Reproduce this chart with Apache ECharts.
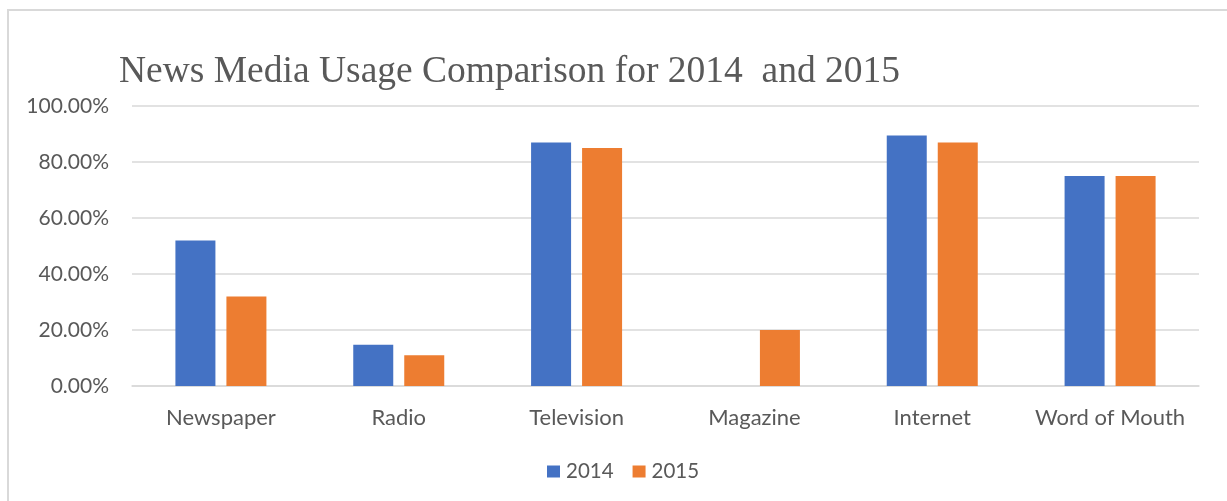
<!DOCTYPE html>
<html>
<head>
<meta charset="utf-8">
<script src="https://cdn.jsdelivr.net/npm/echarts@6/dist/echarts.min.js"></script>
<style>
  html, body { margin: 0; padding: 0; background: #ffffff; }
  #chart { width: 1227px; height: 501px; }
</style>
</head>
<body>
<div id="chart"></div>
<script>
// Share of respondents using each news medium, in percent
const categories = ['Newspaper', 'Radio', 'Television', 'Magazine', 'Internet', 'Word of Mouth'];
const seriesNames = ['2014', '2015'];
const usage2014 = [52, 14.7, 87, 0, 89.5, 75];
const usage2015 = [32, 11, 85, 20, 87, 75];
const yTicks = [0, 20, 40, 60, 80, 100];

const textColor = '#595959';
const gridColor = '#d9d9d9';
const labelFont = 'Lato, "Open Sans", sans-serif';

const chart = echarts.init(document.getElementById('chart'), null, { renderer: 'canvas' });

chart.setOption({
  animation: false,
  backgroundColor: '#ffffff',
  graphic: [{
    type: 'rect',
    silent: true,
    shape: { x: 8, y: 10, width: 1400, height: 700 },
    style: { fill: 'none', stroke: gridColor, lineWidth: 2 }
  }],
  title: {
    text: 'News Media Usage Comparison for 2014\u00a0 and 2015',
    left: 119,
    top: 53,
    padding: 0,
    textStyle: {
      fontFamily: '"Liberation Serif", "Times New Roman", serif',
      fontSize: 37.5,
      fontWeight: 'normal',
      color: textColor
    }
  },
  legend: {
    data: seriesNames,
    bottom: 14,
    left: 542,
    itemWidth: 13,
    itemHeight: 12,
    itemGap: 19,
    icon: 'rect',
    textStyle: { fontFamily: labelFont, fontSize: 20.5, color: textColor, padding: [0, 0, 0, 1] }
  },
  grid: { left: 132, right: 28, top: 106, bottom: 115 },
  xAxis: {
    type: 'category',
    data: categories,
    axisLine: { show: true, lineStyle: { color: gridColor, width: 1.5 } },
    axisTick: { show: false },
    axisLabel: { interval: 0, margin: 21, fontFamily: labelFont, fontSize: 22, color: textColor }
  },
  yAxis: {
    type: 'value',
    min: yTicks[0],
    max: yTicks[yTicks.length - 1],
    interval: yTicks[1] - yTicks[0],
    axisLine: { show: false },
    axisTick: { show: false },
    splitLine: { lineStyle: { color: gridColor, width: 1.5 } },
    axisLabel: {
      margin: 23,
      fontFamily: labelFont,
      fontSize: 21,
      color: textColor,
      formatter: v => v.toFixed(2) + '%'
    }
  },
  series: [
    {
      name: seriesNames[0],
      type: 'bar',
      data: usage2014,
      barWidth: 40,
      barGap: '27.5%',
      itemStyle: { color: '#4472c4' }
    },
    {
      name: seriesNames[1],
      type: 'bar',
      data: usage2015,
      barWidth: 40,
      barGap: '27.5%',
      itemStyle: { color: '#ed7d31' }
    }
  ]
});
</script>
</body>
</html>
